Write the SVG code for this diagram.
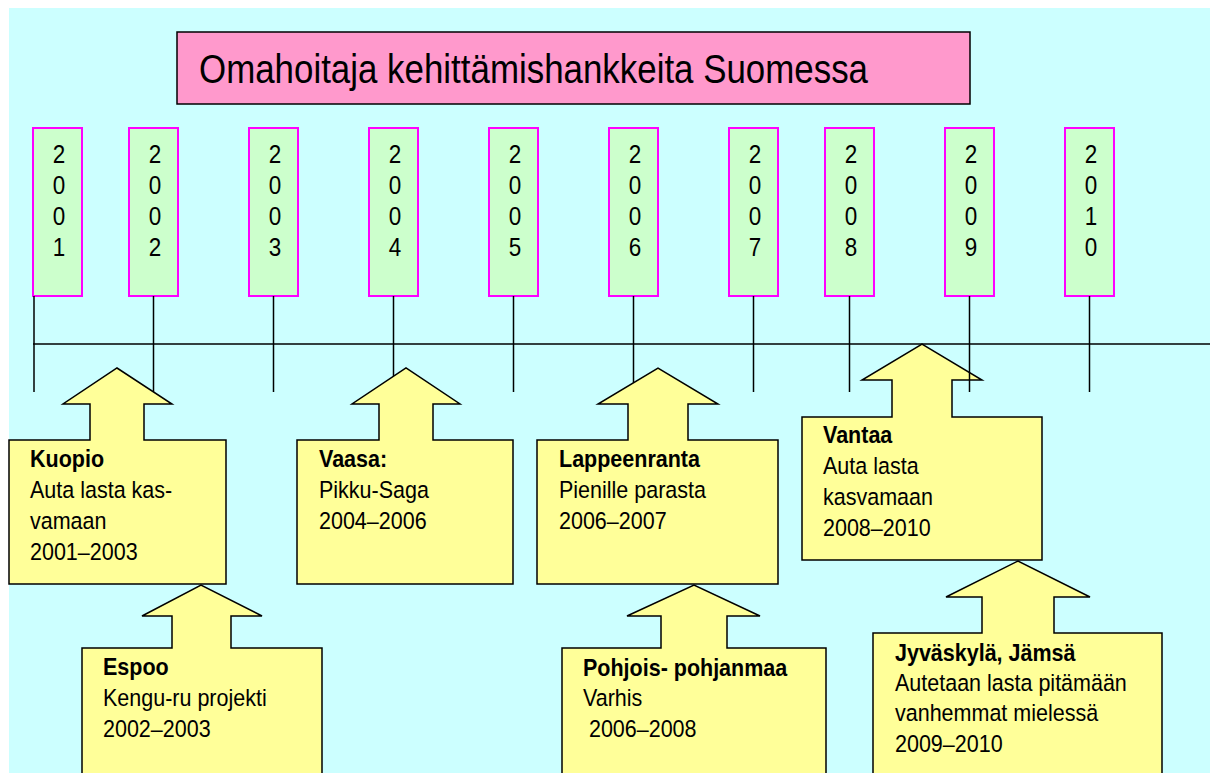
<svg xmlns="http://www.w3.org/2000/svg" width="1216" height="773" viewBox="0 0 1216 773">
<style>
text{font-family:"Liberation Sans",Arial,sans-serif;fill:#000}
.yr rect{fill:#CCFFCC;stroke:#FF00FF;stroke-width:2}
.yr text{font-size:25.5px;text-anchor:middle}
.co path{fill:#FFFF99;stroke:#000;stroke-width:1.5;stroke-linejoin:miter}
.co text{font-size:23.5px}
.co .b{font-weight:bold}
.ln line{stroke:#000;stroke-width:1.5}
</style>
<rect x="0" y="0" width="1216" height="773" fill="#FFFFFF"/>
<rect x="9" y="8" width="1201" height="765" fill="#CCFFFF"/>
<g id="title">
<rect x="177" y="32" width="793" height="72" fill="#FF99CC" stroke="#000" stroke-width="1.5"/>
<text x="199" y="83" font-size="41" textLength="669" lengthAdjust="spacingAndGlyphs">Omahoitaja kehittämishankkeita Suomessa</text>
</g>
<g id="y2001" class="yr"><rect x="33" y="128" width="49" height="168"/><g transform="translate(59,0) scale(0.88,1)"><text x="0" y="163">2</text><text x="0" y="194">0</text><text x="0" y="225">0</text><text x="0" y="256">1</text></g></g>
<g id="y2002" class="yr"><rect x="129" y="128" width="49" height="168"/><g transform="translate(155,0) scale(0.88,1)"><text x="0" y="163">2</text><text x="0" y="194">0</text><text x="0" y="225">0</text><text x="0" y="256">2</text></g></g>
<g id="y2003" class="yr"><rect x="249" y="128" width="49" height="168"/><g transform="translate(275,0) scale(0.88,1)"><text x="0" y="163">2</text><text x="0" y="194">0</text><text x="0" y="225">0</text><text x="0" y="256">3</text></g></g>
<g id="y2004" class="yr"><rect x="369" y="128" width="49" height="168"/><g transform="translate(395,0) scale(0.88,1)"><text x="0" y="163">2</text><text x="0" y="194">0</text><text x="0" y="225">0</text><text x="0" y="256">4</text></g></g>
<g id="y2005" class="yr"><rect x="489" y="128" width="49" height="168"/><g transform="translate(515,0) scale(0.88,1)"><text x="0" y="163">2</text><text x="0" y="194">0</text><text x="0" y="225">0</text><text x="0" y="256">5</text></g></g>
<g id="y2006" class="yr"><rect x="609" y="128" width="49" height="168"/><g transform="translate(635,0) scale(0.88,1)"><text x="0" y="163">2</text><text x="0" y="194">0</text><text x="0" y="225">0</text><text x="0" y="256">6</text></g></g>
<g id="y2007" class="yr"><rect x="729" y="128" width="49" height="168"/><g transform="translate(755,0) scale(0.88,1)"><text x="0" y="163">2</text><text x="0" y="194">0</text><text x="0" y="225">0</text><text x="0" y="256">7</text></g></g>
<g id="y2008" class="yr"><rect x="825" y="128" width="49" height="168"/><g transform="translate(851,0) scale(0.88,1)"><text x="0" y="163">2</text><text x="0" y="194">0</text><text x="0" y="225">0</text><text x="0" y="256">8</text></g></g>
<g id="y2009" class="yr"><rect x="945" y="128" width="49" height="168"/><g transform="translate(971,0) scale(0.88,1)"><text x="0" y="163">2</text><text x="0" y="194">0</text><text x="0" y="225">0</text><text x="0" y="256">9</text></g></g>
<g id="y2010" class="yr"><rect x="1065" y="128" width="49" height="168"/><g transform="translate(1091,0) scale(0.88,1)"><text x="0" y="163">2</text><text x="0" y="194">0</text><text x="0" y="225">1</text><text x="0" y="256">0</text></g></g>
<g id="vantaa" class="co">
<path d="M802,417 H892 V380 H862 L922,344 L982,380 H952 V417 H1042 V560 H802 Z"/>
<g transform="translate(823,0) scale(0.915,1)">
<text x="0" y="443" class="b">Vantaa</text>
<text x="0" y="474">Auta lasta</text>
<text x="0" y="505">kasvamaan</text>
<text x="0" y="536">2008–2010</text>
</g>
</g>
<g id="connectors" class="ln">
<line x1="33" y1="344" x2="1210" y2="344"/>
<line x1="34" y1="296" x2="34" y2="392"/>
<line x1="153.5" y1="296" x2="153.5" y2="392"/>
<line x1="273.5" y1="296" x2="273.5" y2="392"/>
<line x1="393.5" y1="296" x2="393.5" y2="392"/>
<line x1="513.5" y1="296" x2="513.5" y2="392"/>
<line x1="633.5" y1="296" x2="633.5" y2="392"/>
<line x1="753.5" y1="296" x2="753.5" y2="392"/>
<line x1="849.5" y1="296" x2="849.5" y2="392"/>
<line x1="969.5" y1="296" x2="969.5" y2="392"/>
<line x1="1089.5" y1="296" x2="1089.5" y2="392"/>
</g>
<g id="kuopio" class="co">
<path d="M9,440 H90 V404 H63 L117,368 L172,404 H144 V440 H226 V584 H9 Z"/>
<g transform="translate(30,0) scale(0.915,1)">
<text x="0" y="467" class="b">Kuopio</text>
<text x="0" y="498">Auta lasta kas-</text>
<text x="0" y="529">vamaan</text>
<text x="0" y="560">2001–2003</text>
</g>
</g>
<g id="espoo" class="co">
<path d="M82,648 H172 V616 H142 L201,585 L262,616 H231 V648 H322 V790 H82 Z"/>
<g transform="translate(103,0) scale(0.915,1)">
<text x="0" y="675" class="b">Espoo</text>
<text x="0" y="706">Kengu-ru projekti</text>
<text x="0" y="737">2002–2003</text>
</g>
</g>
<g id="vaasa" class="co">
<path d="M297,440 H379 V404 H352 L406,368 L460,404 H433 V440 H513 V584 H297 Z"/>
<g transform="translate(319,0) scale(0.915,1)">
<text x="0" y="467" class="b">Vaasa:</text>
<text x="0" y="498">Pikku-Saga</text>
<text x="0" y="529">2004–2006</text>
</g>
</g>
<g id="lappeenranta" class="co">
<path d="M537,440 H628 V404 H598 L658,368 L718,404 H688 V440 H778 V584 H537 Z"/>
<g transform="translate(559,0) scale(0.915,1)">
<text x="0" y="467" class="b">Lappeenranta</text>
<text x="0" y="498">Pienille parasta</text>
<text x="0" y="529">2006–2007</text>
</g>
</g>
<g id="pohjois" class="co">
<path d="M562,648 H661 V616 H627 L694,585 L760,616 H727 V648 H826 V790 H562 Z"/>
<g transform="translate(583,0) scale(0.915,1)">
<text x="0" y="676" class="b">Pohjois- pohjanmaa</text>
<text x="0" y="706">Varhis</text>
<text x="6.5" y="737">2006–2008</text>
</g>
</g>
<g id="jyvaskyla" class="co">
<path d="M873,633 H982 V597 H946 L1018,561 L1090,597 H1054 V633 H1162 V790 H873 Z"/>
<g transform="translate(895,0) scale(0.915,1)">
<text x="0" y="661" class="b">Jyväskylä, Jämsä</text>
<text x="0" y="691">Autetaan lasta pitämään</text>
<text x="0" y="721">vanhemmat mielessä</text>
<text x="0" y="752">2009–2010</text>
</g>
</g>
</svg>
